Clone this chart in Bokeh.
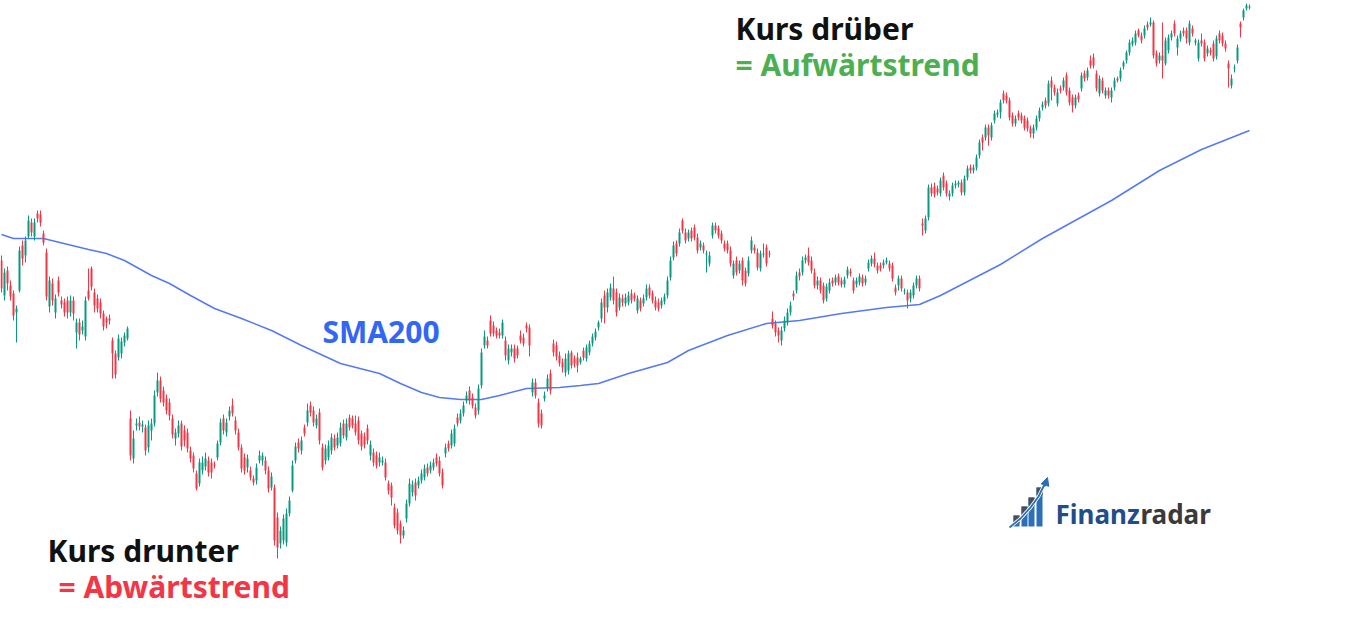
from bokeh.plotting import figure
from bokeh.models import Range1d, Label, ColumnDataSource, Arrow, NormalHead
from bokeh.embed import file_html
from bokeh.resources import INLINE

# ---------------- data (price units, one entry per daily candle) ----------------
opens = [
    740,705,730,715,707,688,710,755,745,764,
    778,764,787,786,767,748,694,717,688,720,
    700,698,700,688,700,668,678,670,664,710,
    732,708,702,698,687,682,682,660,647,643,
    647,658,662,582,542,575,578,574,573,553,
    570,577,608,620,610,602,598,582,562,567,
    577,570,568,550,545,527,517,530,534,540,
    538,536,543,558,582,568,584,595,580,568,
    553,543,533,530,522,520,540,540,540,530,
    513,513,483,457,460,458,487,510,540,558,
    550,573,578,595,590,575,588,553,540,543,
    550,562,555,557,577,563,583,582,577,580,
    567,564,572,545,548,545,538,538,538,517,
    515,493,488,477,465,482,497,508,518,515,
    520,523,533,530,533,543,540,528,547,557,
    555,557,583,580,587,600,610,603,593,590,
    615,655,660,680,675,670,668,665,660,640,
    648,652,652,665,663,675,673,608,618,598,
    587,602,612,627,657,655,645,638,628,630,
    648,642,643,638,650,642,648,657,663,673,
    682,705,693,703,712,708,693,702,697,698,
    707,705,690,700,697,703,713,707,700,698,
    695,699,705,723,743,757,757,780,768,762,
    770,773,763,753,755,746,737,765,775,772,
    767,757,757,750,725,740,730,740,730,727,
    750,753,748,732,746,753,747,682,677,670,
    660,672,678,688,707,710,728,728,740,745,
    740,728,715,720,715,702,710,720,718,724,
    720,716,725,729,720,716,718,723,718,732,
    737,742,735,735,735,738,737,735,713,715,
    722,709,708,702,705,715,722,777,770,783,
    813,814,812,807,825,817,804,807,815,816,
    818,808,823,833,830,833,845,863,863,873,
    863,880,886,888,907,905,900,885,877,887,
    885,882,880,872,867,873,882,893,900,897,
    920,913,897,912,913,925,910,903,895,905,
    912,927,923,940,943,927,907,920,905,910,
    903,913,922,922,934,940,948,956,958,970,
    965,965,976,976,978,947,940,945,937,950,
    963,977,953,962,970,970,958,972,958,942,
    960,958,947,950,957,944,967,965,957,937,
    915,932,940,977,983,992,993,
]
highs = [
    745,732,734,720,710,695,754,760,764,785,
    782,782,790,790,770,752,724,722,706,724,
    704,702,704,705,704,682,682,680,704,732,
    734,712,706,702,690,684,686,663,650,666,
    663,668,674,590,570,582,584,580,576,580,
    582,610,628,624,614,606,602,586,572,580,
    580,575,572,554,548,530,542,544,548,544,
    542,539,560,582,586,582,594,602,584,572,
    556,547,546,534,525,537,550,548,544,534,
    528,516,488,474,486,492,504,540,558,562,
    564,576,597,599,594,586,592,557,556,560,
    567,566,568,578,581,582,586,585,585,584,
    570,568,576,560,552,549,548,544,542,520,
    518,497,492,480,474,501,522,520,522,524,
    531,536,537,539,542,547,544,532,557,560,
    571,576,587,591,599,609,614,607,597,616,
    652,670,664,685,679,673,672,681,664,656,
    656,656,655,670,667,678,676,622,622,602,
    591,609,626,631,661,659,649,642,647,650,
    650,645,648,644,653,656,660,667,672,680,
    702,710,712,717,724,712,707,706,707,709,
    711,708,705,703,706,716,716,710,704,702,
    703,707,724,744,759,760,772,782,772,771,
    773,776,767,760,758,750,749,778,778,775,
    770,760,760,754,740,744,740,743,733,744,
    764,756,752,750,757,756,750,689,680,673,
    674,684,692,699,710,729,732,744,746,753,
    744,732,724,723,718,717,722,723,726,727,
    723,724,734,732,723,723,727,726,725,741,
    745,748,738,738,741,743,740,738,716,725,
    725,712,711,711,718,725,725,782,785,816,
    817,818,815,823,828,820,810,818,820,820,
    821,825,835,836,836,846,861,866,876,876,
    878,890,891,901,910,908,903,888,885,890,
    888,885,883,875,876,885,893,899,903,920,
    924,916,912,915,923,928,913,906,906,908,
    928,930,933,945,947,930,925,923,913,913,
    913,923,924,933,940,950,961,963,970,972,
    968,975,979,983,980,950,948,978,963,966,
    970,980,965,970,973,973,980,975,962,961,
    967,961,955,953,960,965,970,968,960,940,
    926,936,956,979,992,997,996,
]
lows = [
    708,700,710,700,680,658,708,735,738,762,
    764,760,778,774,755,700,688,695,682,704,
    692,684,682,684,680,652,660,666,660,700,
    710,688,688,682,670,672,676,622,622,640,
    642,654,660,540,537,570,570,568,545,548,
    560,574,604,598,594,586,580,562,555,563,
    550,554,548,538,528,510,514,526,530,524,
    522,532,540,555,566,564,580,584,566,550,
    528,526,528,520,515,516,537,535,526,508,
    510,455,442,452,456,454,484,508,537,548,
    546,564,574,584,574,572,556,530,536,540,
    546,550,552,554,562,560,570,572,565,556,
    550,552,556,540,534,532,534,535,520,506,
    495,472,466,457,462,478,494,504,500,512,
    517,520,524,527,530,534,524,512,543,549,
    552,554,574,577,584,597,596,592,582,586,
    612,652,652,664,664,662,662,662,640,636,
    644,638,642,657,654,668,644,604,602,573,
    572,599,609,606,644,640,634,628,624,626,
    632,633,628,636,640,639,645,654,660,670,
    678,677,688,700,696,684,690,694,694,695,
    697,699,687,689,694,700,702,697,690,689,
    692,696,702,720,740,744,754,767,757,759,
    759,760,747,750,747,728,734,762,767,762,
    757,749,747,734,722,725,727,715,714,724,
    747,747,730,729,743,734,743,672,664,658,
    655,669,675,685,700,707,720,725,737,735,
    727,712,711,707,697,699,707,714,715,715,
    713,713,722,724,707,713,715,714,715,729,
    734,733,727,729,732,736,729,719,705,710,
    709,706,692,698,702,712,709,765,767,780,
    804,803,805,804,810,804,800,804,812,813,
    805,805,820,827,827,830,842,850,860,855,
    860,877,883,882,897,897,880,874,874,880,
    877,870,869,863,862,870,879,890,892,894,
    900,905,894,907,910,905,895,888,892,898,
    909,919,920,932,932,909,904,907,902,902,
    898,910,918,919,931,937,945,954,955,963,
    957,962,970,974,942,934,937,922,935,947,
    960,964,945,959,964,957,955,964,955,939,
    954,939,944,945,939,941,957,954,949,913,
    912,928,937,963,980,990,991,
]
closes = [
    712,728,717,704,685,692,750,742,760,780,
    768,778,782,778,758,704,720,700,702,708,
    696,688,688,700,687,678,666,674,700,702,
    714,695,692,687,674,678,680,647,626,662,
    659,665,672,545,562,577,574,576,550,575,
    577,605,620,602,598,590,585,566,568,575,
    554,560,552,542,532,512,538,538,542,528,
    528,535,557,578,570,578,590,587,570,553,
    532,530,542,523,518,533,545,545,530,512,
    524,460,453,470,482,487,500,535,554,552,
    560,567,590,588,578,582,560,533,552,555,
    563,553,563,573,565,577,573,575,568,560,
    554,556,560,556,538,535,543,540,523,510,
    503,475,470,465,470,497,517,516,505,520,
    527,532,527,535,538,537,527,515,553,552,
    567,572,577,587,595,605,600,595,585,612,
    648,664,655,667,667,665,665,678,645,652,
    652,642,645,660,657,672,655,618,605,577,
    575,605,622,610,648,644,637,633,642,647,
    635,637,635,642,643,653,657,664,669,678,
    698,693,708,713,700,688,703,698,703,705,
    700,702,702,692,702,712,705,700,693,692,
    700,704,720,740,755,747,768,770,760,768,
    762,763,750,757,750,747,745,775,770,765,
    760,752,750,737,737,728,737,720,717,740,
    760,750,733,747,747,737,746,675,668,665,
    670,680,688,695,704,725,724,740,743,738,
    730,715,720,710,700,714,718,717,723,718,
    716,721,731,727,710,720,724,717,722,738,
    742,736,730,732,738,740,732,722,708,722,
    712,710,700,708,715,722,712,775,782,813,
    807,806,808,820,813,807,807,815,817,818,
    808,822,832,830,833,843,858,858,873,865,
    875,887,888,898,900,900,883,877,882,883,
    880,873,872,867,873,882,890,896,895,917,
    913,908,908,910,920,908,898,895,903,901,
    925,922,930,935,935,912,922,910,910,905,
    910,920,920,930,938,948,958,960,967,965,
    960,972,973,978,945,937,945,940,960,963,
    967,967,962,967,967,962,977,967,960,958,
    957,942,952,948,942,962,960,957,952,932,
    922,933,953,973,990,995,994,
]

# 200-day simple moving average (read at selected candles)
sma_index = [0, 4, 14, 29, 35, 41, 50, 56, 63, 71, 80, 90, 100, 113, 126, 133, 140,
             146, 153, 160, 166, 175, 186, 193, 199, 209, 222, 229, 242, 255, 266,
             280, 295, 306, 313, 333, 347, 370, 386, 400, 416]
sma_value = [766, 762, 762, 751, 747, 740, 725, 717, 705, 692, 682, 670, 655, 637,
             627, 617, 608, 603, 601, 601, 605, 612, 613, 615, 617, 627, 638, 650,
             665, 677, 680, 687, 693, 696, 705, 736, 762, 800, 830, 851, 870]

assert len(opens) == len(highs) == len(lows) == len(closes), (len(opens), len(highs), len(lows), len(closes))

# ---------------- figure ----------------
W, H = 1333, 608

def px_x(px):
    return (px - 1) / 3

def px_y(py):
    return 1000 - py

UP, DOWN = "#089981", "#F23645"
n = len(closes)
src = ColumnDataSource(dict(
    x=list(range(n)),
    h=highs, l=lows,
    top=[max(o, c) for o, c in zip(opens, closes)],
    bottom=[min(o, c) for o, c in zip(opens, closes)],
    color=[UP if c >= o else DOWN for o, c in zip(opens, closes)],
))

p = figure(width=W, height=H, output_backend="svg", toolbar_location=None,
           x_range=Range1d(px_x(0), px_x(W)), y_range=Range1d(px_y(H), px_y(0)),
           x_axis_location=None, y_axis_location=None, min_border=0)
p.grid.visible = False
p.outline_line_color = None
p.background_fill_color = "white"
p.border_fill_color = "white"

p.line(sma_index, sma_value, line_color="#5479F6", line_width=1.5)
p.segment(x0="x", y0="h", x1="x", y1="l", line_color="color", line_width=1, source=src)
p.vbar(x="x", width=2 / 3, top="top", bottom="bottom", fill_color="color",
       line_color=None, source=src)

FONT = "Noto Sans"

def label(txt, px, py, color, size="30px"):
    # Bokeh renders the alphabetic baseline ~13px below the anchor; compensate
    p.add_layout(Label(x=px_x(px), y=px_y(py - 13), text=txt, text_font=FONT,
                       text_font_style="bold", text_font_size=size,
                       text_color=color, text_baseline="alphabetic"))

label("Kurs drüber", 735, 41, "#111111")
label("= Aufwärtstrend", 735, 77, "#4CAF50")
label("SMA200", 322, 344, "#3266F4")
label("Kurs drunter", 47, 563, "#111111")
label("= Abwärtstrend", 58, 599, "#F23645")

# ---------------- logo ----------------
bar_l = [1013, 1021, 1028, 1036]
bar_r = [1019, 1027, 1034, 1042]
bar_t = [515, 506, 497, 487]
p.quad(left=[px_x(v) for v in bar_l], right=[px_x(v) for v in bar_r],
       top=[px_y(v) for v in bar_t], bottom=[px_y(526)] * 4,
       fill_color="#2A6FB8", line_color=None)
p.quad(left=[px_x(v) for v in bar_l], right=[px_x(v) for v in bar_r],
       top=[px_y(v) for v in bar_t], bottom=[px_y(v + 8) for v in bar_t],
       fill_color="#4A4F57", line_color=None)
curve_x = [1009, 1020, 1030, 1038, 1044]
curve_y = [527, 518, 507, 496, 484]
p.line([px_x(v) for v in curve_x], [px_y(v) for v in curve_y],
       line_color="white", line_width=3.5)
p.line([px_x(v) for v in curve_x], [px_y(v) for v in curve_y],
       line_color="#2A6FB8", line_width=1.8)
p.add_layout(Arrow(end=NormalHead(size=8, fill_color="#2A6FB8", line_color="#2A6FB8"),
                   x_start=px_x(1044), y_start=px_y(486), x_end=px_x(1047), y_end=px_y(477),
                   line_color="#2A6FB8", line_width=1.8))
label("Finanz", 1055, 526, "#1F4E8A", "26px")
label("radar", 1140, 526, "#3A3A3A", "26px")

open("out.html", "w").write(file_html(p, INLINE))
